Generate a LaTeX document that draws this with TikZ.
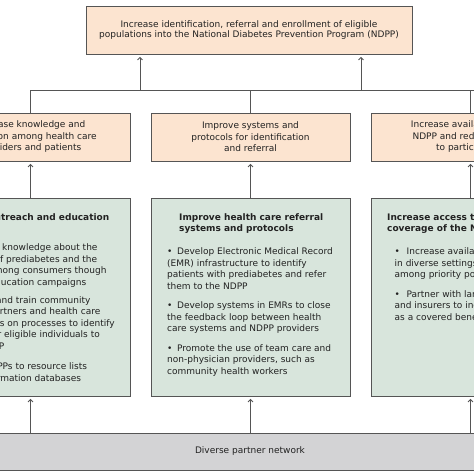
\documentclass[tikz,border=0pt]{standalone}
\usepackage{fontspec}
\setmainfont{DejaVu Sans}
\usetikzlibrary{arrows.meta}
\definecolor{orangefill}{HTML}{FCE4D0}
\definecolor{greenfill}{HTML}{D8E5DC}
\definecolor{grayfill}{HTML}{D3D3D5}
\definecolor{edgec}{HTML}{555555}
\definecolor{txtc}{HTML}{222222}
\newcommand\bitem[2][10pt]{\par\hangindent=#1\hangafter=1\noindent\hbox to #1{\textbullet\hss}#2\par}
\begin{document}
\begin{tikzpicture}[x=1pt,y=-1pt,
  every node/.style={font=\fontsize{9}{11.5}\selectfont, text=txtc},
  topbox/.style={draw=edgec, fill=orangefill, line width=0.8pt, minimum width=326pt, minimum height=48pt, align=center, inner sep=0, font=\fontsize{9}{10.5}\selectfont},
  goalbox/.style={draw=edgec, fill=orangefill, line width=0.8pt, minimum width=199pt, minimum height=48pt, align=center, inner sep=0},
  stratbox/.style={draw=edgec, fill=greenfill, line width=0.8pt, minimum width=199pt, minimum height=198pt, inner sep=0},
  netbox/.style={draw=edgec, fill=grayfill, line width=0.8pt, minimum width=520pt, minimum height=37pt, inner sep=0},
  content/.style={inner sep=0, anchor=base west},
  leftline/.style={inner sep=0, anchor=base east},
  conn/.style={draw=edgec, line width=0.8pt},
  arr/.style={conn, -{Straight Barb[length=2.5pt,width=5pt]}, shorten >=2.5pt}
]
\useasboundingbox (0,0) rectangle (474,474);
\clip (0,0) rectangle (474,474);
\fill[white] (0,0) rectangle (474,474);

\node[topbox] (top) at (249,30) {Increase identification, referral and enrollment of eligible\\populations into the National Diabetes Prevention Program (NDPP)};

\node[goalbox] (o1) at (30.5,137) {Increase knowledge and\\education among health care\\providers and patients};
\node[goalbox] (o2) at (250.5,137) {Improve systems and\\protocols for identification\\and referral};
\node[goalbox] (o3) at (470.5,137) {Increase availability of the\\NDPP and reduce barriers\\to participation};

\node[stratbox] (g1) at (30.5,297) {};
\node[stratbox] (g2) at (250.5,297) {};
\node[stratbox] (g3) at (470.5,297) {};

\node[netbox] (net) at (250,451.5) {Diverse partner network};

\coordinate (busR) at (480,90);
\coordinate (a1) at (140,90);
\coordinate (a2) at (361,90);

\draw[conn] (o1.north) |- (busR);
\draw[conn] (o2.north) -- (o2.north |- busR);
\draw[conn] (o3.north) -- (o3.north |- busR);
\draw[arr] (a1) -- (a1 |- top.south);
\draw[arr] (a2) -- (a2 |- top.south);

\draw[arr] (g1.north) -- (o1.south);
\draw[arr] (g2.north) -- (o2.south);
\draw[arr] (g3.north) -- (o3.south);

\draw[arr] (net.north -| g1.south) -- (g1.south);
\draw[arr] (net.north -| g2.south) -- (g2.south);
\draw[arr] (net.north -| g3.south) -- (g3.south);

% left strategy box (cropped at the picture's left edge)
\node[leftline] (t1) at (109.5,220.5) {\textbf{Increase outreach and education}};
\node[leftline] (l11) at (97.7,250.5) {Increase knowledge about the};
\node[leftline] (l12) at (97.3,262) {burden of prediabetes and the};
\node[leftline] (l13) at (106.7,273.5) {NDPP among consumers though};
\node[leftline] (l14) at (86.5,285) {health education campaigns};
\node[leftline] (l21) at (90.7,303) {Educate and train community};
\node[leftline] (l22) at (100.5,314.5) {coalition partners and health care};
\node[leftline] (l23) at (115,326) {providers on processes to identify};
\node[leftline] (l24) at (100,337.5) {and refer eligible individuals to};
\node[leftline] (l25) at (4.5,349) {the NDPP};
\node[leftline] (l31) at (87.3,369.7) {Add NDPPs to resource lists};
\node[leftline] (l32) at (81.3,381) {and information databases};

\node[content] (c2) at (167,220) {\begin{minipage}[t]{200pt}\raggedright
\hspace*{12pt}\textbf{Improve health care referral}\\\hspace*{12pt}\textbf{systems and protocols}\par\vspace{11.5pt}
\bitem{Develop Electronic Medical Record\\(EMR) infrastructure to identify\\patients with prediabetes and refer\\them to the NDPP}\vspace{8pt}
\bitem{Develop systems in EMRs to close\\the feedback loop between health\\care systems and NDPP providers}\vspace{8pt}
\bitem{Promote the use of team care and\\non-physician providers, such as\\community health workers}
\end{minipage}};

\node[content] (c3) at (387,220) {\begin{minipage}[t]{200pt}\raggedright
\textbf{Increase access to and}\\\textbf{coverage of the NDPP}\par\vspace{11.5pt}
{\leftskip=7.5pt
\bitem[12pt]{Increase availability of NDPPs\\in diverse settings, especially\\among priority populations}\vspace{8pt}
\bitem[12pt]{Partner with large employers\\and insurers to include NDPP\\as a covered benefit}}
\end{minipage}};
\end{tikzpicture}
\end{document}
